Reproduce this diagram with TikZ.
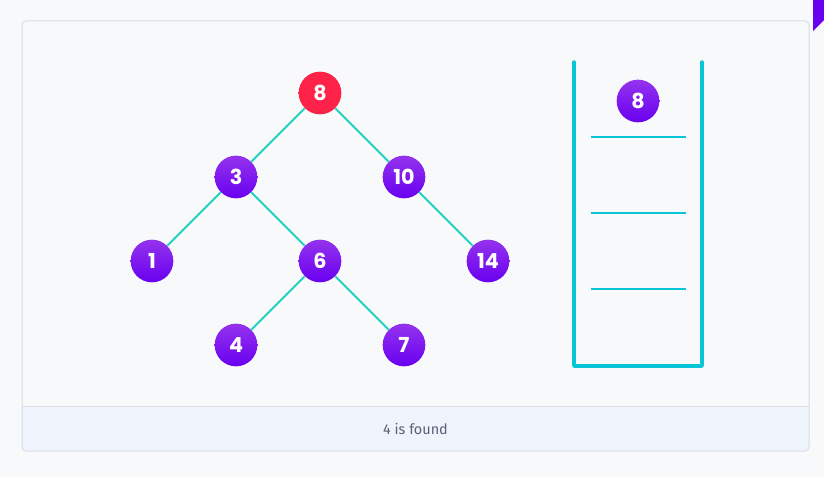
\documentclass[tikz,border=0pt]{standalone}
\usepackage{fontspec}
\setmainfont{Poppins}
\newfontfamily\footfont{Fira Sans}
\usetikzlibrary{positioning}

\definecolor{pagebg}{HTML}{F7F9FB}
\definecolor{cardbg}{HTML}{F8F9FB}
\definecolor{cardline}{HTML}{D6DBE6}
\definecolor{footbg}{HTML}{EFF4FC}
\definecolor{foottext}{HTML}{5B5F75}
\definecolor{edgeteal}{HTML}{22D3C2}
\definecolor{stackcyan}{HTML}{08C6D8}
\definecolor{nodetop}{HTML}{9433EE}
\definecolor{nodebottom}{HTML}{6A00F0}
\definecolor{current}{HTML}{FF2248}

\begin{document}
\begin{tikzpicture}[
    x=0.75pt, y=-0.75pt,
    treenode/.style={
        circle,
        minimum size=32pt,
        inner sep=0pt,
        top color=nodetop,
        bottom color=nodebottom,
        text=white,
        font=\fontsize{15.5}{16}\selectfont\bfseries,
    },
    visited/.style={
        treenode,
        top color=current,
        bottom color=current,
    },
    branch/.style={
        draw=edgeteal,
        line width=1.4pt,
    },
    wall/.style={
        draw=stackcyan,
        line width=2.6pt,
        line cap=round,
        line join=round,
    },
    slot/.style={
        draw=stackcyan,
        line width=1.5pt,
    }
]
    % Page and card
    \fill[pagebg] (0,0) rectangle (824,477);
    \useasboundingbox (0,0) rectangle (824,477);
    \fill[nodebottom] (813,0) -- (824,0) -- (824,20) -- (813,31) -- cycle;
    \fill[cardbg, rounded corners=3pt] (22,21) rectangle (809,451);
    \begin{scope}
        \clip[rounded corners=3pt] (22,21) rectangle (809,451);
        \fill[footbg] (22,406) rectangle (809,451);
    \end{scope}
    \draw[cardline, line width=0.75pt, rounded corners=3pt] (22,21) rectangle (809,451);
    \draw[cardline, line width=0.75pt] (22,406) -- (809,406);

    % Tree
    \node[visited] (n8) at (320,93) {8};
    \node[treenode] (n3) at (236,177) {3};
    \node[treenode] (n10) at (404,177) {10};
    \node[treenode] (n1) at (152,261) {1};
    \node[treenode] (n6) at (320,261) {6};
    \node[treenode] (n14) at (488,261) {14};
    \node[treenode] (n4) at (236,345) {4};
    \node[treenode] (n7) at (404,345) {7};

    % Branches
    \draw[branch] (n8) -- (n3);
    \draw[branch] (n8) -- (n10);
    \draw[branch] (n3) -- (n1);
    \draw[branch] (n3) -- (n6);
    \draw[branch] (n10) -- (n14);
    \draw[branch] (n6) -- (n4);
    \draw[branch] (n6) -- (n7);

    % Stack
    \coordinate (topleft) at (574,62);
    \coordinate (bottomleft) at (574,366);
    \coordinate (bottomright) at (702,366);
    \coordinate (topright) at (702,62);
    \draw[wall] (topleft) -- (bottomleft) -- (bottomright) -- (topright);
    \foreach \y in {137,213,289}
        \draw[slot] (591,\y) -- (686,\y);
    \node[treenode] (s8) at (638,101) {8};

    % Footer
    \node[font=\footfont\fontsize{10.8}{12}\selectfont, text=foottext] (status) at (415.5,428.5) {4 is found};
\end{tikzpicture}
\end{document}
